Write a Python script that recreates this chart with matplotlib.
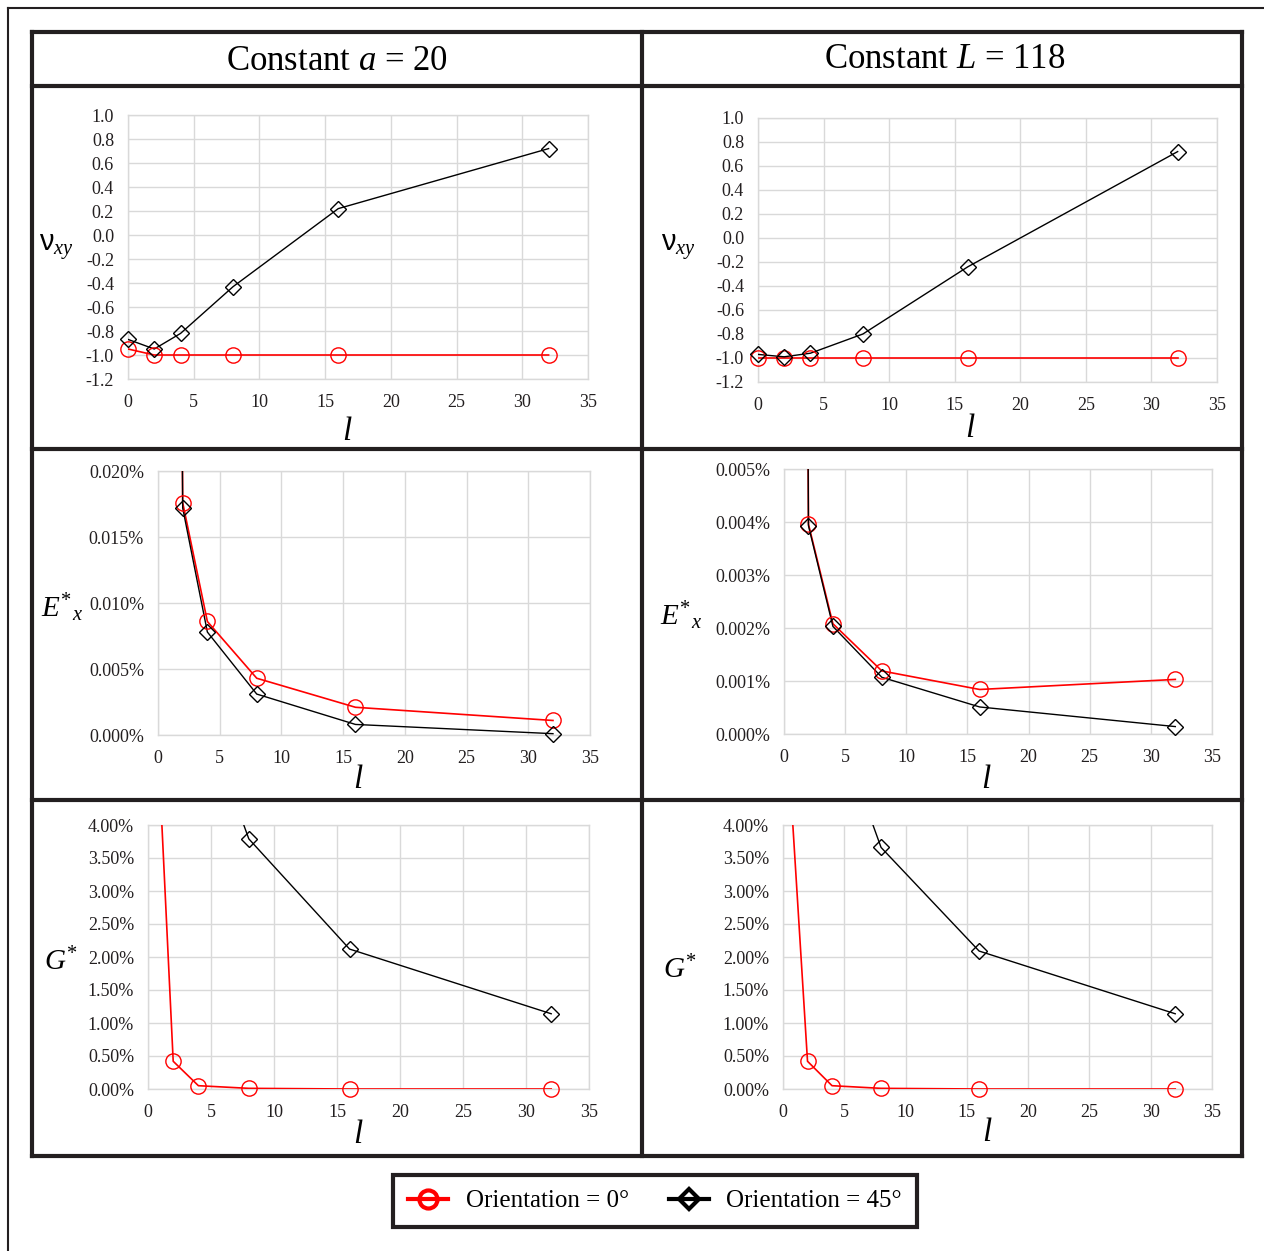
import matplotlib
matplotlib.use("Agg")
import matplotlib.pyplot as plt
from matplotlib.lines import Line2D
from matplotlib.ticker import MultipleLocator, FuncFormatter

plt.rcParams["font.family"] = ["Liberation Serif", "DejaVu Serif"]
plt.rcParams["mathtext.fontset"] = "custom"
plt.rcParams["mathtext.rm"] = "Liberation Serif"
plt.rcParams["mathtext.it"] = "Liberation Serif:italic"
plt.rcParams["mathtext.sf"] = "Liberation Sans"

W, H = 1264, 1251

# data
l_vals = [0, 2, 4, 8, 16, 32]

# Constant a = 20
nu_a_0 = [-0.95, -1.0, -1.0, -1.0, -1.0, -1.0]
nu_a_45 = [-0.87, -0.95, -0.82, -0.43, 0.22, 0.72]
ex_a_0 = [0.30, 0.0176, 0.0086, 0.0043, 0.0021, 0.0011]
ex_a_45 = [0.30, 0.0172, 0.0078, 0.0031, 0.0008, 0.0001]
g_a_0 = [8.4, 0.42, 0.05, 0.01, 0.0, 0.0]
g_a_45 = [40.0, 12.0, 5.9, 3.79, 2.12, 1.14]

# Constant L = 118
nu_L_0 = [-1.0, -1.0, -1.0, -1.0, -1.0, -1.0]
nu_L_45 = [-0.97, -0.99, -0.96, -0.80, -0.24, 0.72]
ex_L_0 = [0.10, 0.00396, 0.00208, 0.00119, 0.00084, 0.00103]
ex_L_45 = [0.10, 0.00393, 0.00203, 0.00107, 0.00051, 0.00014]
g_L_0 = [6.4, 0.42, 0.05, 0.01, 0.0, 0.0]
g_L_45 = [40.0, 12.0, 5.72, 3.66, 2.09, 1.14]

headers = ["Constant $a$ = 20", "Constant $L$ = 118"]
legend_labels = ["Orientation = 0°", "Orientation = 45°"]

fig = plt.figure(figsize=(W / 100, H / 100), dpi=100)


def px_rect(left, right, top, bottom):
    return [left / W, 1 - bottom / H, (right - left) / W, (bottom - top) / H]


def fig_line(x0, y0, x1, y1, lw=3.0):
    fig.add_artist(Line2D([x0 / W, x1 / W], [1 - y0 / H, 1 - y1 / H],
                          transform=fig.transFigure, color="#231f20", lw=lw,
                          solid_capstyle="projecting"))


def nu_fmt(v, pos):
    return f"{round(v, 6) + 0.0:.1f}"


def ex_fmt(v, pos):
    return f"{round(v, 8) + 0.0:.3f}%"


def g_fmt(v, pos):
    return f"{round(v, 6) + 0.0:.2f}%"


def series(ax, ys, ylim, color, lw, marker, ms):
    # line clipped to the plot area, markers drawn unclipped like Excel
    ax.plot(l_vals, ys, color=color, lw=lw, zorder=3)
    inside = [(x, y) for x, y in zip(l_vals, ys) if ylim[0] <= y <= ylim[1]]
    ax.plot([p[0] for p in inside], [p[1] for p in inside], ls="none",
            marker=marker, ms=ms, mfc="none", mec=color, mew=1.0,
            clip_on=False, zorder=4)


panels = [
    # rect, y0 series, y45 series, ylim, step, formatter, ylabel, ylabel pos, xlabel pos
    ((128, 588, 115, 379), nu_a_0, nu_a_45, (-1.2, 1.0), 0.2, nu_fmt,
     r"$\mathsf{ν}_{xy}$", (56, 247), (347, 432)),
    ((758, 1217, 118, 382), nu_L_0, nu_L_45, (-1.2, 1.0), 0.2, nu_fmt,
     r"$\mathsf{ν}_{xy}$", (678, 247), (970, 429)),
    ((158, 590, 471, 735), ex_a_0, ex_a_45, (0, 0.020), 0.005, ex_fmt,
     r"$E^{*}{}_{x}$", (62, 608), (358, 780)),
    ((784, 1212, 469, 734), ex_L_0, ex_L_45, (0, 0.005), 0.001, ex_fmt,
     r"$E^{*}{}_{x}$", (681, 616), (986, 780)),
    ((148, 589, 825, 1089), g_a_0, g_a_45, (0, 4.0), 0.5, g_fmt,
     r"$G^{*}$", (61, 962), (358, 1135)),
    ((783, 1212, 825, 1089), g_L_0, g_L_45, (0, 4.0), 0.5, g_fmt,
     r"$G^{*}$", (680, 970), (987, 1133)),
]

grid_c = "#d9d9d9"
for rect, y0, y45, ylim, step, fmt, ylab, ylab_pos, xlab_pos in panels:
    ax = fig.add_axes(px_rect(*rect))
    series(ax, y0, ylim, "red", 1.2, "o", 11)
    series(ax, y45, ylim, "black", 1.0, "D", 8)
    ax.set_xlim(0, 35)
    ax.set_ylim(*ylim)
    ax.xaxis.set_major_locator(MultipleLocator(5))
    ax.yaxis.set_major_locator(MultipleLocator(step))
    ax.yaxis.set_major_formatter(FuncFormatter(fmt))
    ax.grid(True, color=grid_c, lw=1.0)
    ax.set_axisbelow(True)
    for s in ax.spines.values():
        s.set_color(grid_c)
        s.set_linewidth(1.0)
    ax.tick_params(length=0, labelsize=13, colors="#231f20")
    ax.tick_params(axis="x", pad=11)
    ax.tick_params(axis="y", pad=10)
    fig.text(xlab_pos[0] / W, 1 - xlab_pos[1] / H, "$l$", fontsize=24,
             ha="center", va="center")
    fig.text(ylab_pos[0] / W, 1 - ylab_pos[1] / H, ylab, fontsize=21,
             ha="center", va="center")

# table frame
fig_line(8, 8, 1264, 8, lw=1.5)
fig_line(8, 8, 8, 1251, lw=1.5)
top, hdr, r1, r2, bot = 32, 86, 449, 800, 1156
left, mid, right = 32, 642, 1242
for y in (top, hdr, r1, r2, bot):
    fig_line(left, y, right, y)
for x in (left, mid, right):
    fig_line(x, top, x, bot)

fig.text(337 / W, 1 - 62 / H, headers[0], fontsize=25, ha="center", va="center")
fig.text(945 / W, 1 - 60 / H, headers[1], fontsize=25, ha="center", va="center")

h0 = Line2D([], [], color="red", lw=3, marker="o", ms=13, mfc="none", mec="red", mew=3)
h45 = Line2D([], [], color="black", lw=3, marker="D", ms=10, mfc="none", mec="black", mew=3)
leg = fig.legend([h0, h45], legend_labels, loc="center",
                 bbox_to_anchor=(655 / W, 1 - 1201 / H), ncol=2, fontsize=18,
                 frameon=True, fancybox=False, edgecolor="#231f20", framealpha=1,
                 handlelength=1.6, handletextpad=0.7, columnspacing=1.6,
                 borderpad=0.6)
leg.get_frame().set_linewidth(3)

fig.savefig("out.png", dpi=100)
